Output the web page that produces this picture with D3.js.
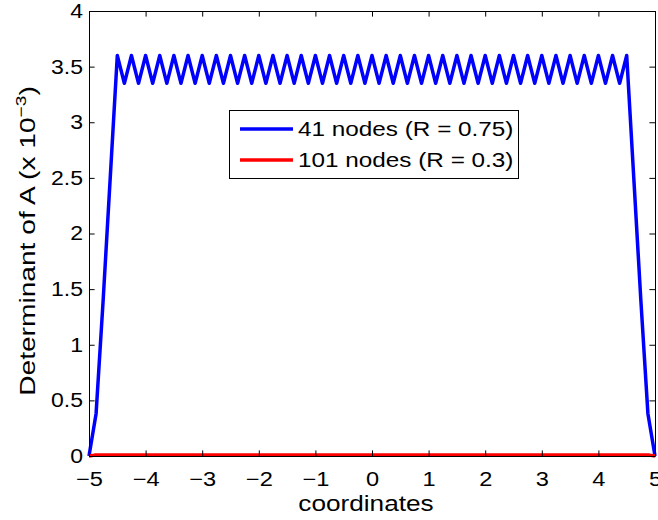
<!DOCTYPE html>
<html>
<head>
<meta charset="utf-8">
<script src="https://cdn.jsdelivr.net/npm/d3@7"></script>
<style>
  body { margin: 0; background: #fff; }
  text { font-family: "Liberation Sans", Arial, sans-serif; fill: #000; }
</style>
</head>
<body>
<script>
// Chart data
var xTicks = [-5, -4, -3, -2, -1, 0, 1, 2, 3, 4, 5];
var yTicks = [0, 0.5, 1, 1.5, 2, 2.5, 3, 3.5, 4];
var yTickLabels = ["0", "0.5", "1", "1.5", "2", "2.5", "3", "3.5", "4"];
var seriesNames = ["41 nodes (R = 0.75)", "101 nodes (R = 0.3)"];

// blue series: coordinates and determinant (x 10^-3)
var blueX = [
  -5, -4.875, -4.75, -4.625, -4.5, -4.375, -4.25, -4.125, -4, -3.875,
  -3.75, -3.625, -3.5, -3.375, -3.25, -3.125, -3, -2.875, -2.75, -2.625,
  -2.5, -2.375, -2.25, -2.125, -2, -1.875, -1.75, -1.625, -1.5, -1.375,
  -1.25, -1.125, -1, -0.875, -0.75, -0.625, -0.5, -0.375, -0.25, -0.125,
  0,
  0.125, 0.25, 0.375, 0.5, 0.625, 0.75, 0.875, 1, 1.125, 1.25,
  1.375, 1.5, 1.625, 1.75, 1.875, 2, 2.125, 2.25, 2.375, 2.5,
  2.625, 2.75, 2.875, 3, 3.125, 3.25, 3.375, 3.5, 3.625, 3.75,
  3.875, 4, 4.125, 4.25, 4.375, 4.5, 4.625, 4.75, 4.875, 5
];
var blueY = [
  0, 0.38, 1.4, 2.5,
  3.6, 3.35, 3.6, 3.35, 3.6, 3.35, 3.6, 3.35, 3.6, 3.35, 3.6, 3.35,
  3.6, 3.35, 3.6, 3.35, 3.6, 3.35, 3.6, 3.35, 3.6, 3.35, 3.6, 3.35,
  3.6, 3.35, 3.6, 3.35, 3.6, 3.35, 3.6, 3.35, 3.6, 3.35, 3.6, 3.35,
  3.6, 3.35, 3.6, 3.35, 3.6, 3.35, 3.6, 3.35, 3.6, 3.35, 3.6, 3.35,
  3.6, 3.35, 3.6, 3.35, 3.6, 3.35, 3.6, 3.35, 3.6, 3.35, 3.6, 3.35,
  3.6, 3.35, 3.6, 3.35, 3.6, 3.35, 3.6, 3.35, 3.6, 3.35, 3.6, 3.35,
  3.6,
  2.5, 1.4, 0.38, 0
];

// red series: coordinates and determinant (x 10^-3)
var redX = [
  -5, -4.9, -4.8, -4.7, -4.6, -4.5, -4.4, -4.3, -4.2, -4.1,
  -4, -3.9, -3.8, -3.7, -3.6, -3.5, -3.4, -3.3, -3.2, -3.1,
  -3, -2.9, -2.8, -2.7, -2.6, -2.5, -2.4, -2.3, -2.2, -2.1,
  -2, -1.9, -1.8, -1.7, -1.6, -1.5, -1.4, -1.3, -1.2, -1.1,
  -1, -0.9, -0.8, -0.7, -0.6, -0.5, -0.4, -0.3, -0.2, -0.1,
  0,
  0.1, 0.2, 0.3, 0.4, 0.5, 0.6, 0.7, 0.8, 0.9, 1,
  1.1, 1.2, 1.3, 1.4, 1.5, 1.6, 1.7, 1.8, 1.9, 2,
  2.1, 2.2, 2.3, 2.4, 2.5, 2.6, 2.7, 2.8, 2.9, 3,
  3.1, 3.2, 3.3, 3.4, 3.5, 3.6, 3.7, 3.8, 3.9, 4,
  4.1, 4.2, 4.3, 4.4, 4.5, 4.6, 4.7, 4.8, 4.9, 5
];
var redY = [
  0, 0.008, 0.008, 0.008, 0.008, 0.008, 0.008, 0.008, 0.008, 0.008,
  0.008, 0.008, 0.008, 0.008, 0.008, 0.008, 0.008, 0.008, 0.008, 0.008,
  0.008, 0.008, 0.008, 0.008, 0.008, 0.008, 0.008, 0.008, 0.008, 0.008,
  0.008, 0.008, 0.008, 0.008, 0.008, 0.008, 0.008, 0.008, 0.008, 0.008,
  0.008, 0.008, 0.008, 0.008, 0.008, 0.008, 0.008, 0.008, 0.008, 0.008,
  0.008,
  0.008, 0.008, 0.008, 0.008, 0.008, 0.008, 0.008, 0.008, 0.008, 0.008,
  0.008, 0.008, 0.008, 0.008, 0.008, 0.008, 0.008, 0.008, 0.008, 0.008,
  0.008, 0.008, 0.008, 0.008, 0.008, 0.008, 0.008, 0.008, 0.008, 0.008,
  0.008, 0.008, 0.008, 0.008, 0.008, 0.008, 0.008, 0.008, 0.008, 0.008,
  0.008, 0.008, 0.008, 0.008, 0.008, 0.008, 0.008, 0.008, 0.008, 0
];

// SVG area
var svgWidth = 658;
var svgHeight = 520;

var chartMargin = { top: 11, right: 3, bottom: 64, left: 89 };
var chartWidth = svgWidth - chartMargin.left - chartMargin.right;
var chartHeight = svgHeight - chartMargin.top - chartMargin.bottom;

var svg = d3.select("body")
  .append("svg")
  .attr("width", svgWidth)
  .attr("height", svgHeight);

var chartGroup = svg.append("g")
  .attr("transform", `translate(${chartMargin.left}, ${chartMargin.top})`);

// scales
var xScale = d3.scaleLinear().domain([-5, 5]).range([0, chartWidth]);
var yScale = d3.scaleLinear().domain([0, 4]).range([chartHeight, 0]);

var tickLen = 5.6;
var minus = d => d < 0 ? "\u2212" + Math.abs(d) : String(d);

// the reference font renders wider than Liberation Sans, so stretch text a bit
function widen(selection, factor) {
  selection.each(function() {
    var w = this.getComputedTextLength();
    d3.select(this)
      .attr("textLength", w * factor)
      .attr("lengthAdjust", "spacingAndGlyphs");
  });
}

// lines
var drawLine = d3.line()
  .x(d => xScale(d[0]))
  .y(d => yScale(d[1]));

var blueData = blueX.map((x, i) => [x, blueY[i]]);
var redData = redX.map((x, i) => [x, redY[i]]);

chartGroup.append("path")
  .attr("d", drawLine(blueData))
  .attr("fill", "none")
  .attr("stroke", "#0000ff")
  .attr("stroke-width", 3.5)
  .attr("stroke-linejoin", "round");

chartGroup.append("path")
  .attr("d", drawLine(redData))
  .attr("fill", "none")
  .attr("stroke", "#ff0000")
  .attr("stroke-width", 3.5)
  .attr("stroke-linejoin", "round");

// axes (ticks pointing inward on all four sides)
var bottomAxis = d3.axisBottom(xScale).tickValues(xTicks).tickFormat(minus)
  .tickSizeInner(-tickLen).tickSizeOuter(0).tickPadding(15.5);
var topAxis = d3.axisTop(xScale).tickValues(xTicks).tickFormat("")
  .tickSizeInner(-tickLen).tickSizeOuter(0);
var leftAxis = d3.axisLeft(yScale).tickValues(yTicks)
  .tickFormat((d, i) => yTickLabels[i])
  .tickSizeInner(-tickLen).tickSizeOuter(0).tickPadding(6);
var rightAxis = d3.axisRight(yScale).tickValues(yTicks).tickFormat("")
  .tickSizeInner(-tickLen).tickSizeOuter(0);

var gx = chartGroup.append("g")
  .attr("transform", `translate(0, ${chartHeight})`)
  .call(bottomAxis);
chartGroup.append("g").call(topAxis);
var gy = chartGroup.append("g").call(leftAxis);
chartGroup.append("g")
  .attr("transform", `translate(${chartWidth}, 0)`)
  .call(rightAxis);

chartGroup.selectAll(".domain, .tick line")
  .attr("stroke", "#000")
  .attr("stroke-width", 1);
chartGroup.selectAll(".tick text")
  .style("font-size", "20px")
  .attr("fill", "#000");
widen(gx.selectAll(".tick text"), 1.18);
widen(gy.selectAll(".tick text"), 1.15);

// axis labels
svg.append("text")
  .attr("x", 366)
  .attr("y", 511)
  .attr("text-anchor", "middle")
  .style("font-size", "22px")
  .text("coordinates")
  .call(widen, 1.19);

var yLabel = svg.append("text")
  .attr("transform", "translate(35, 241) rotate(-90) scale(1.28, 1)")
  .attr("text-anchor", "middle")
  .style("font-size", "22px");
yLabel.append("tspan").text("Determinant of A (x 10");
yLabel.append("tspan").attr("dy", -9).style("font-size", "15px").text("\u22123");
yLabel.append("tspan").attr("dy", 9).text(")");

// legend
var legend = svg.append("g");
legend.append("rect")
  .attr("x", 229.5).attr("y", 110.5)
  .attr("width", 289).attr("height", 68)
  .attr("fill", "#fff")
  .attr("stroke", "#000")
  .attr("stroke-width", 1);

var legendColors = ["#0000ff", "#ff0000"];
seriesNames.forEach(function(name, i) {
  var y = 129 + i * 31;
  legend.append("line")
    .attr("x1", 240).attr("x2", 293)
    .attr("y1", y).attr("y2", y)
    .attr("stroke", legendColors[i])
    .attr("stroke-width", 3.5);
  legend.append("text")
    .attr("x", 298).attr("y", y + 7)
    .style("font-size", "20px")
    .text(name)
    .call(widen, 1.215);
});
</script>
</body>
</html>
